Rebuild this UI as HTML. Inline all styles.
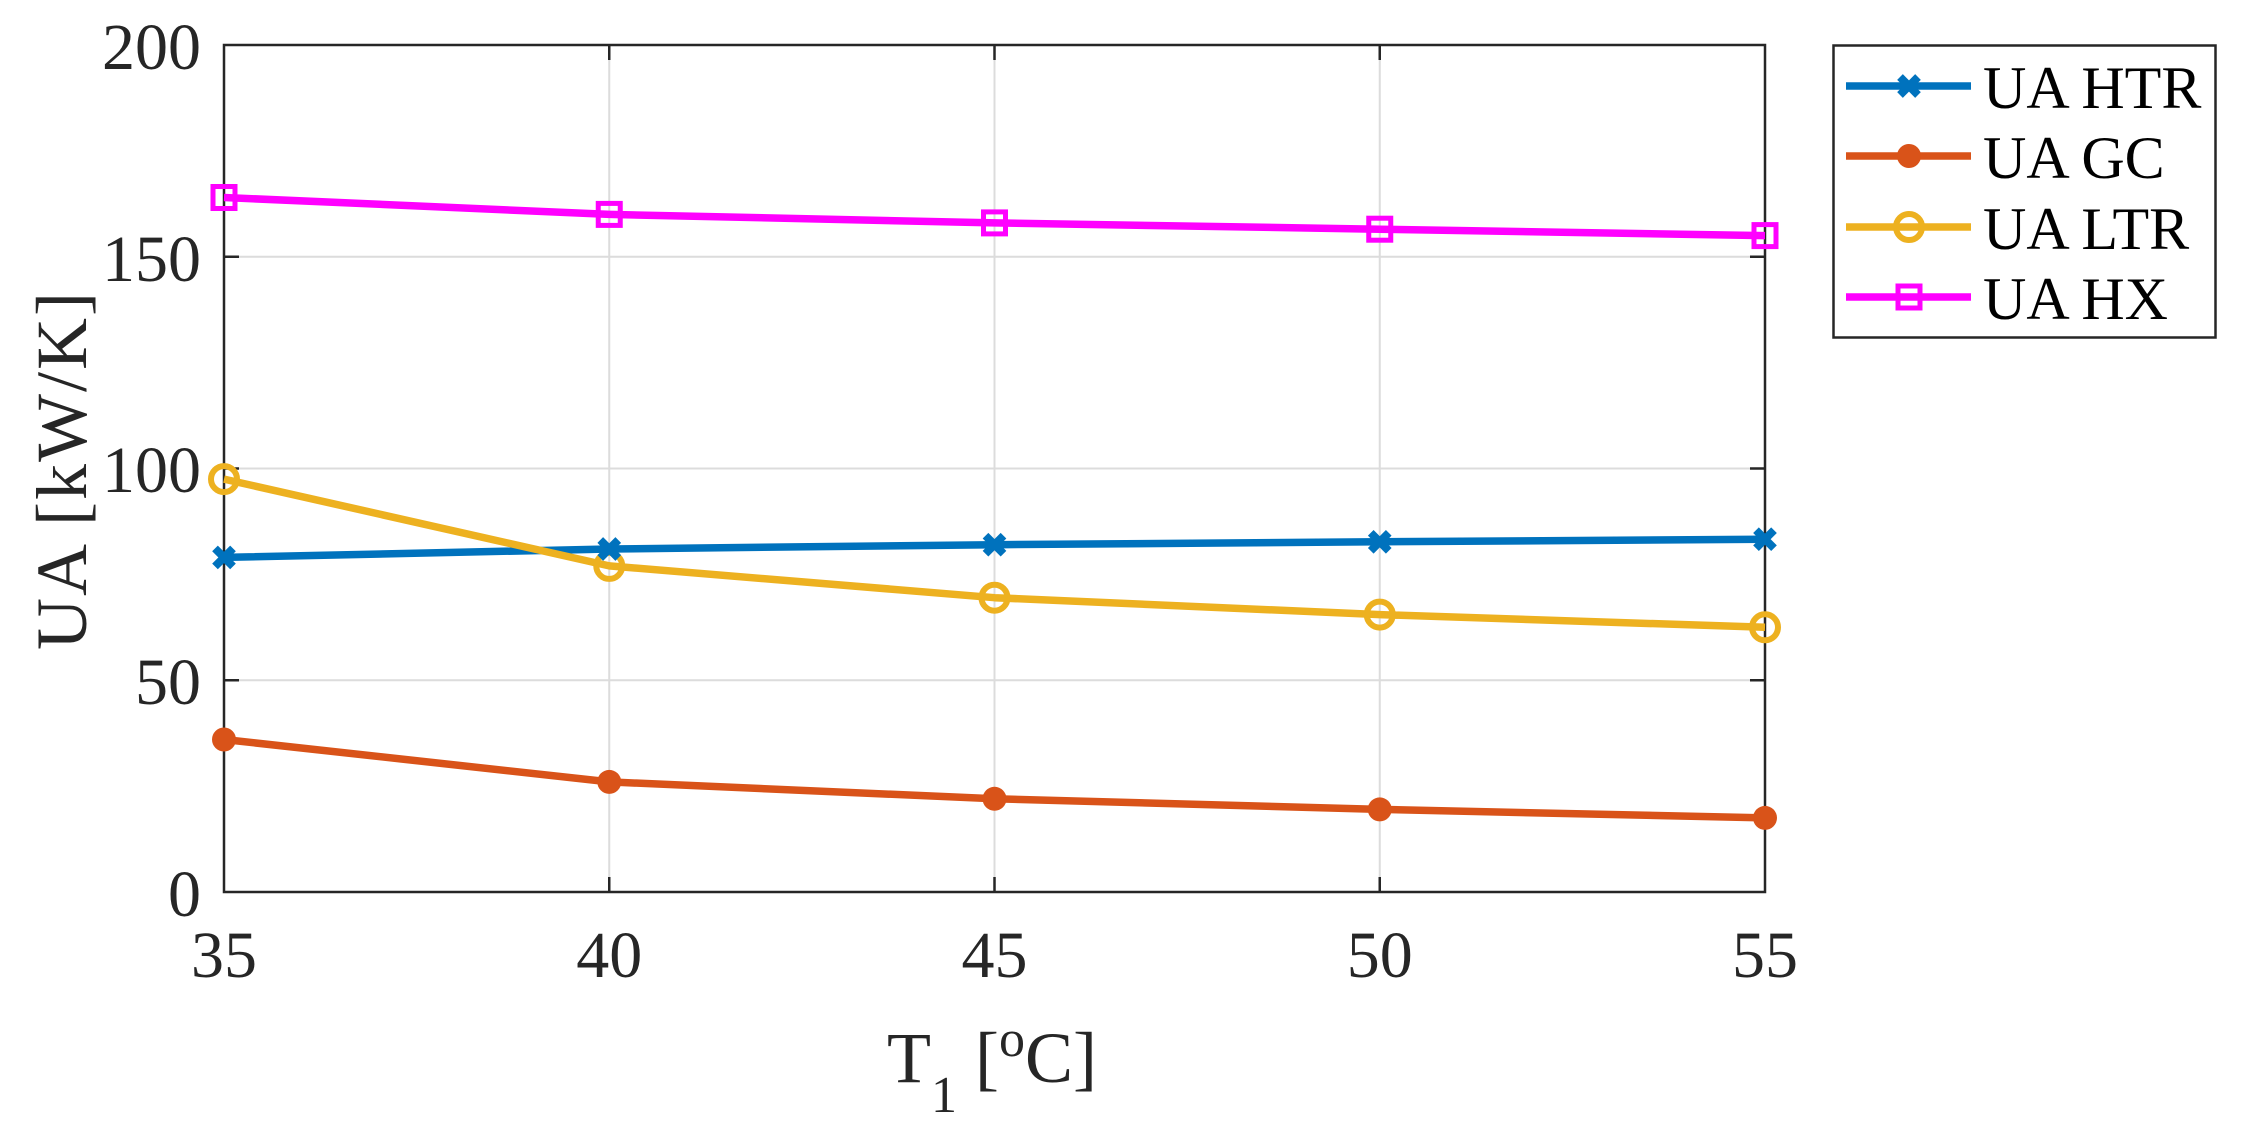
<!DOCTYPE html>
<html><head><meta charset="utf-8"><style>
html,body{margin:0;padding:0;background:#fff;}
svg, svg text{font-family:"Liberation Serif","Times New Roman",Times,serif;}
</style></head><body>
<svg width="2241" height="1137" viewBox="0 0 2241 1137" xmlns="http://www.w3.org/2000/svg" font-family="Liberation Serif, Times New Roman, serif">
<rect width="2241" height="1137" fill="#fff"/>
<g stroke="#dcdcdc" stroke-width="2">
<line x1="609.25" y1="45" x2="609.25" y2="892"/>
<line x1="994.5" y1="45" x2="994.5" y2="892"/>
<line x1="1379.75" y1="45" x2="1379.75" y2="892"/>
<line x1="224" y1="680.25" x2="1765" y2="680.25"/>
<line x1="224" y1="468.5" x2="1765" y2="468.5"/>
<line x1="224" y1="256.75" x2="1765" y2="256.75"/>
</g>
<g stroke="#262626" stroke-width="2.5">
<rect x="224" y="45" width="1541" height="847" fill="none"/>
<line x1="609.25" y1="892" x2="609.25" y2="877"/><line x1="994.5" y1="892" x2="994.5" y2="877"/><line x1="1379.75" y1="892" x2="1379.75" y2="877"/>
<line x1="609.25" y1="45" x2="609.25" y2="60"/><line x1="994.5" y1="45" x2="994.5" y2="60"/><line x1="1379.75" y1="45" x2="1379.75" y2="60"/>
<line x1="224" y1="680.25" x2="239" y2="680.25"/><line x1="224" y1="468.5" x2="239" y2="468.5"/><line x1="224" y1="256.75" x2="239" y2="256.75"/>
<line x1="1765" y1="680.25" x2="1750" y2="680.25"/><line x1="1765" y1="468.5" x2="1750" y2="468.5"/><line x1="1765" y1="256.75" x2="1750" y2="256.75"/>
</g>
<g fill="#262626" font-size="66" text-anchor="end">
<text x="201" y="69">200</text>
<text x="201" y="281">150</text>
<text x="201" y="492">100</text>
<text x="201" y="704">50</text>
<text x="201" y="916">0</text>
</g>
<g fill="#262626" font-size="66" text-anchor="middle">
<text x="224" y="977">35</text>
<text x="609.25" y="977">40</text>
<text x="994.5" y="977">45</text>
<text x="1379.75" y="977">50</text>
<text x="1765" y="977">55</text>
</g>
<text x="887" y="1082" font-size="72" fill="#262626">T<tspan font-size="52" dy="30">1</tspan><tspan dy="-30"> [</tspan><tspan font-size="52" dy="-26">o</tspan><tspan dy="26">C]</tspan></text>
<text transform="translate(86,470) rotate(-90)" font-size="72" fill="#262626" text-anchor="middle" letter-spacing="2">UA [kW/K]</text>

<g fill="none" stroke-width="7.5" stroke-linejoin="round">
<polyline stroke="#ff00ff" points="224,197.5 609.25,214.4 994.5,222.9 1379.75,229.2 1765,235.6"/>
<polyline stroke="#0072bd" points="224,557.4 609.25,549 994.5,544.7 1379.75,541.8 1765,539.2"/>
<polyline stroke="#edb120" points="224,479.1 609.25,565.9 994.5,597.7 1379.75,614.6 1765,627.3"/>
<polyline stroke="#d95319" points="224,739.5 609.25,781.9 994.5,798.8 1379.75,809.4 1765,817.9"/>
</g>
<g fill="none" stroke="#ff00ff" stroke-width="5">
<rect x="213" y="186.5" width="22" height="22"/><rect x="598.25" y="203.4" width="22" height="22"/><rect x="983.5" y="211.9" width="22" height="22"/><rect x="1368.75" y="218.2" width="22" height="22"/><rect x="1754" y="224.6" width="22" height="22"/>
</g>
<g fill="none" stroke="#edb120" stroke-width="6">
<circle cx="224" cy="479.1" r="13"/><circle cx="609.25" cy="565.9" r="13"/><circle cx="994.5" cy="597.7" r="13"/><circle cx="1379.75" cy="614.6" r="13"/><circle cx="1765" cy="627.3" r="13"/>
</g>
<g fill="#d95319">
<circle cx="224" cy="739.5" r="12"/><circle cx="609.25" cy="781.9" r="12"/><circle cx="994.5" cy="798.8" r="12"/><circle cx="1379.75" cy="809.4" r="12"/><circle cx="1765" cy="817.9" r="12"/>
</g>
<g stroke="#0072bd" stroke-width="8">
<path d="M215,548.4 l18,18 M233,548.4 l-18,18"/><path d="M600.25,540 l18,18 M618.25,540 l-18,18"/><path d="M985.5,535.7 l18,18 M1003.5,535.7 l-18,18"/><path d="M1370.75,532.8 l18,18 M1388.75,532.8 l-18,18"/><path d="M1756,530.2 l18,18 M1774,530.2 l-18,18"/>
</g>

<rect x="1833.5" y="45.5" width="382" height="292" fill="#fff" stroke="#262626" stroke-width="2.5"/>
<g stroke-width="7.5">
<line x1="1846" y1="86" x2="1971" y2="86" stroke="#0072bd"/>
<line x1="1846" y1="156" x2="1971" y2="156" stroke="#d95319"/>
<line x1="1846" y1="227" x2="1971" y2="227" stroke="#edb120"/>
<line x1="1846" y1="297" x2="1971" y2="297" stroke="#ff00ff"/>
</g>
<path d="M1900,77 l18,18 M1918,77 l-18,18" stroke="#0072bd" stroke-width="8"/>
<circle cx="1909" cy="156" r="12" fill="#d95319"/>
<circle cx="1909" cy="227" r="13" fill="none" stroke="#edb120" stroke-width="6"/>
<rect x="1898" y="286" width="22" height="22" fill="none" stroke="#ff00ff" stroke-width="5"/>
<g font-size="60" fill="#000">
<text x="1983" y="108">UA HTR</text>
<text x="1983" y="178">UA GC</text>
<text x="1983" y="249">UA LTR</text>
<text x="1983" y="319">UA HX</text>
</g>
</svg>
</body></html>
